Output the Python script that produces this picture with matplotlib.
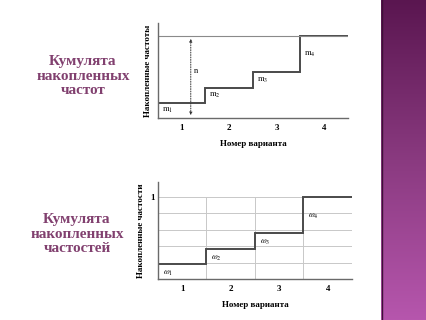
import numpy as np
import matplotlib
matplotlib.use("Agg")
import matplotlib.pyplot as plt
from matplotlib.colors import LinearSegmentedColormap

plt.rcParams['font.family'] = ['Liberation Serif', 'DejaVu Serif']
plt.rcParams['mathtext.fontset'] = 'stix'

# ---- data ----
categories = [1, 2, 3, 4]
cum_values = [0.18, 0.37, 0.56, 1.0]          # cumulative (share of n)
top_labels = [r'$\mathrm{m}_1$', r'$\mathrm{m}_2$', r'$\mathrm{m}_3$', r'$\mathrm{m}_4$']
bottom_labels = [r'$\omega_1$', r'$\omega_2$', r'$\omega_3$', r'$\omega_4$']
xtick_labels = ['1', '2', '3', '4']
grid_levels = [0.2, 0.4, 0.6, 0.8, 1.0]

W, H = 427, 320
fig = plt.figure(figsize=(W / 100, H / 100), dpi=100)
fig.patch.set_facecolor('white')

def px_axes(x0, y0, x1, y1):
    return fig.add_axes([x0 / W, 1 - y1 / H, (x1 - x0) / W, (y1 - y0) / H])

edges = [c - 0.5 for c in categories] + [categories[-1] + 0.5]
line_col = '#4a4a4a'
axis_col = '#6a6a6a'

def style(ax, ylabel, ytop):
    ax.set_xlim(edges[0], edges[-1])
    ax.set_ylim(0, ytop)
    for s in ['top', 'right']:
        ax.spines[s].set_visible(False)
    for s in ['left', 'bottom']:
        ax.spines[s].set_color(axis_col)
        ax.spines[s].set_linewidth(1.0)
    ax.set_xticks(categories)
    ax.set_xticklabels(xtick_labels, fontsize=6.5, fontweight='bold')
    ax.tick_params(axis='x', length=0, pad=4)
    ax.tick_params(axis='y', length=0, pad=2)
    ax.set_xlabel('Номер варианта', fontsize=6.5, fontweight='bold', labelpad=6)
    ax.set_ylabel(ylabel, fontsize=6.5, fontweight='bold', labelpad=4)
    ax.patch.set_alpha(0)

# ---- top chart ----
ax1 = px_axes(158, 23, 348, 118)
style(ax1, 'Накопленные частоты', 1.16)
ax1.set_yticks([])
ax1.axhline(cum_values[-1], color='#8a8a8a', lw=0.8)
ax1.stairs(cum_values, edges, baseline=None, color=line_col, lw=1.4)
ax1.annotate('', xy=(1.19, 0), xytext=(1.19, cum_values[-1]),
             arrowprops=dict(arrowstyle='<|-|>', linestyle=(0, (1, 1.5)),
                             color='#333333', lw=0.7, mutation_scale=4))
ax1.text(1.30, cum_values[-1] * 0.57, 'n', fontsize=6, ha='center', va='center')
prev = 0
for c, v, lab in zip(categories, cum_values, top_labels):
    ax1.text(c - 0.3, (prev + v) / 2, lab, fontsize=6, ha='center', va='center')
    prev = v

# ---- bottom chart ----
ax2 = px_axes(158, 182, 352, 279)
style(ax2, 'Накопленные частости', 1.18)
ax2.set_yticks([1.0])
ax2.set_yticklabels(['1'], fontsize=6.5, fontweight='bold')
for g in grid_levels:
    ax2.axhline(g, color='#c8c8c8', lw=0.7, zorder=0)
ax2.vlines(edges[1:-1], 0, grid_levels[-1], color='#c8c8c8', lw=0.7, zorder=0)
ax2.stairs(cum_values, edges, baseline=None, color=line_col, lw=1.4)
prev = 0
for c, v, lab in zip(categories, cum_values, bottom_labels):
    ax2.text(c - 0.3, (prev + v) / 2 - 0.02, lab, fontsize=6, ha='center', va='center')
    prev = v

# ---- left titles ----
title_col = '#81406f'
fig.text(83 / W, 1 - 76 / H, 'Кумулята\nнакопленных\nчастот', ha='center', va='center',
         fontsize=11, color=title_col, linespacing=1.15, fontweight='bold')
fig.text(77 / W, 1 - 234 / H, 'Кумулята\nнакопленных\nчастостей', ha='center', va='center',
         fontsize=11, color=title_col, linespacing=1.15, fontweight='bold')

# ---- purple side bar ----
axb = px_axes(381, 0, 427, 320)
cmap = LinearSegmentedColormap.from_list('bar', ['#5a1650', '#8a3a80', '#b656ad'])
grad = np.linspace(0, 1, 256).reshape(-1, 1)
axb.imshow(grad, aspect='auto', cmap=cmap, extent=[0, 1, 1, 0])
axb.axvline(0.02, color='#3e0f38', lw=1)
axb.set_axis_off()

fig.savefig('out.png', dpi=100)
